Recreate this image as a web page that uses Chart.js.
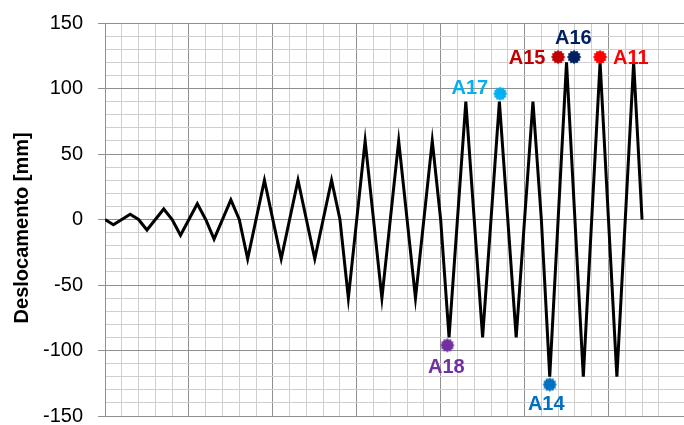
<!DOCTYPE html>
<html>
<head>
<meta charset="utf-8">
<script src="https://cdn.jsdelivr.net/npm/chart.js@4/dist/chart.umd.min.js"></script>
<style>
  html, body { margin: 0; padding: 0; background: #fff; }
  #wrap { width: 684px; height: 425px; }
</style>
</head>
<body>
<div id="wrap"><canvas id="grafico" width="684" height="425"></canvas></div>
<script>
// Protocolo de carregamento: passo (eixo x) e deslocamento em mm
const passos = [0, 1, 3, 4, 5, 7, 8, 9, 11, 12, 13, 15, 16,
    17, 19, 21, 23, 25, 27, 28, 29, 31, 33, 35, 37, 39, 40,
    41, 43, 45, 47, 49, 51, 52, 53, 55, 57, 59, 61, 63, 64];
const deslocamento = [0, -4, 4, 0, -8, 8, 0, -12, 12, 0, -15, 15, 0,
    -30, 30, -30, 30, -30, 30, 0, -60, 60, -60, 60, -60, 60, 0,
    -90, 90, -90, 90, -90, 90, 0, -120, 120, -120, 120, -120, 120, 0];

// Pontos dos ensaios marcados no gráfico
const ensaios = ['A18', 'A17', 'A14', 'A15', 'A16', 'A11'];
const ensaioX = [40.8, 47.1, 53.0, 54.0, 55.9, 59.0];
const ensaioY = [-96, 96, -126, 124, 124, 124];
const ensaioCores = ['#7030A0', '#00B0F0', '#0070C0', '#C00000', '#002060', '#FF0000'];

// Eixo y: marcas principais
const yMin = -150, yMax = 150, yPasso = 50;

const fonte = '"Liberation Sans", Arial, sans-serif';
const corMaior = '#8f8f8f';
const corMenor = '#cfcfcf';

// marcador em forma de estrela (12 pontas)
function estrela(cor) {
    const c = document.createElement('canvas');
    c.width = 16; c.height = 16;
    const g = c.getContext('2d');
    g.beginPath();
    for (let i = 0; i < 24; i++) {
        const r = i % 2 ? 5.7 : 7.2;
        const a = Math.PI * i / 12 - Math.PI / 2;
        g.lineTo(8 + r * Math.cos(a), 8 + r * Math.sin(a));
    }
    g.closePath();
    g.fillStyle = cor;
    g.fill();
    return c;
}

// rótulos dos ensaios (posição relativa ao marcador)
const rotulos = {
    id: 'rotulos',
    afterDatasetsDraw(chart, args, opts) {
        const meta = chart.getDatasetMeta(0);
        const g = chart.ctx;
        g.save();
        g.font = 'bold 20px ' + fonte;
        g.textBaseline = 'middle';
        meta.data.forEach((pt, i) => {
            const d = opts.desvios[i];
            g.fillStyle = ensaioCores[i];
            g.textAlign = d[2];
            g.fillText(ensaios[i], pt.x + d[0], pt.y + d[1]);
        });
        g.restore();
    }
};

new Chart(document.getElementById('grafico'), {
    type: 'line',
    data: {
        datasets: [
            {
                label: 'Ensaios',
                data: ensaioX.map((x, i) => ({ x: x, y: ensaioY[i] })),
                showLine: false,
                pointStyle: ensaioCores.map(estrela),
                pointRadius: 7,
                order: 0
            },
            {
                label: 'Deslocamento',
                data: passos.map((x, i) => ({ x: x, y: deslocamento[i] })),
                borderColor: '#000',
                borderWidth: 3,
                pointRadius: 0,
                tension: 0,
                fill: false,
                order: 1
            }
        ]
    },
    options: {
        responsive: false,
        animation: false,
        layout: { autoPadding: false, padding: { top: 23, bottom: 9, left: 0, right: 0 } },
        scales: {
            x: {
                type: 'linear', min: 0, max: 69,
                afterFit: s => { s.height = 0; },
                border: { color: corMaior, width: 1 },
                grid: {
                    drawTicks: false,
                    color: c => !c.tick || c.tick.value % 2 !== 0 ? 'transparent' : (c.tick.value % 10 === 0 ? corMaior : corMenor)
                },
                ticks: { display: false, stepSize: 2, autoSkip: false }
            },
            y: {
                min: yMin, max: yMax,
                afterFit: s => { s.width = 105; s.paddingTop = 9; s.paddingBottom = 9; },
                border: { color: corMaior, width: 1 },
                grid: {
                    tickLength: 7,
                    color: c => c.tick && c.tick.value % yPasso === 0 ? corMaior : corMenor,
                    tickColor: c => c.tick && c.tick.value % yPasso === 0 ? corMaior : 'transparent'
                },
                ticks: {
                    stepSize: 10, autoSkip: false, padding: 15, color: '#000',
                    font: { family: fonte, size: 20 },
                    callback: v => v % yPasso === 0 ? v : ''
                },
                title: {
                    display: true, text: 'Deslocamento [mm]   ', color: '#000',
                    font: { family: fonte, size: 20, weight: 'bold' },
                    padding: { top: 10, bottom: 0 }
                }
            }
        },
        plugins: {
            legend: { display: false },
            tooltip: { enabled: false },
            rotulos: {
                desvios: [[-1, 22, 'center'], [-12, -5, 'right'], [-3.5, 20, 'center'],
                          [-12.7, 1.6, 'right'], [-0.7, -18.4, 'center'], [13, 1.6, 'left']]
            }
        }
    },
    plugins: [rotulos]
});
</script>
</body>
</html>
